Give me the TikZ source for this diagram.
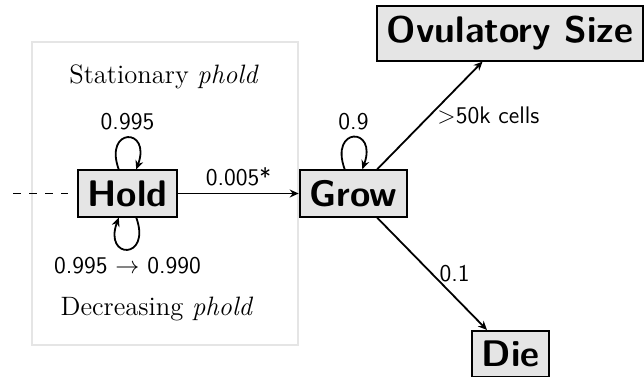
\documentclass[tikz,border=0pt]{standalone}
\usetikzlibrary{arrows.meta}
\begin{document}
\begin{tikzpicture}[
     x=0.5pt,y=-0.5pt,
     state/.style={rectangle,draw,line width=1pt,fill=gray!20,inner sep=5pt,
       font=\fontsize{18.5}{22}\selectfont\sffamily\bfseries},
     lbl/.style={font=\fontsize{12}{14}\selectfont\sffamily},
     note/.style={font=\fontsize{13.3}{16}\selectfont},
     link/.style={->,draw,line width=0.9pt},
     loopup/.style={loop above,out=110,in=70,looseness=6.6,link},
     loopdown/.style={loop below,out=290,in=250,looseness=6.6,link},
     >={Stealth[length=4.5pt,width=4pt,inset=1.5pt]}
   ]
   \path[use as bounding box] (0,0) rectangle (644,376);
   % Hold phase frame.
   \draw[black!10,line width=0.8pt] (32,42) rectangle (298,345);
   \node[note] (stat) at (164,77) {Stationary \textit{phold}};
   \node[note] (decr) at (157,309) {Decreasing \textit{phold}};
   % States.
   \node[state] (hold) at (127.5,193.5) {Hold};
   \node[state] (grow) at (353.5,193.5) {Grow};
   \node[state] (ovul) at (510,33.5) {Ovulatory Size};
   \node[state] (die) at (510.5,354) {Die};
   \coordinate (entry) at (13,193.5);
   % Transitions.
   \draw[line width=0.9pt,dash pattern=on 4pt off 4pt,shorten >=4.5pt] (entry) -- (hold);
   \path (hold) edge[loopup] node[above,lbl] {0.995} (hold);
   \path (hold) edge[loopdown] node[below,lbl] {0.995 $\rightarrow$ 0.990} (hold);
   \draw[link] (hold) -- node[above,lbl] {0.005*} (grow);
   \path (grow) edge[loopup] node[above,lbl] {0.9} (grow);
   \draw[link] (grow) -- node[right,lbl] {$>$50k cells} (ovul);
   \draw[link] (grow) -- node[right,lbl] {0.1} (die);
\end{tikzpicture}
\end{document}
